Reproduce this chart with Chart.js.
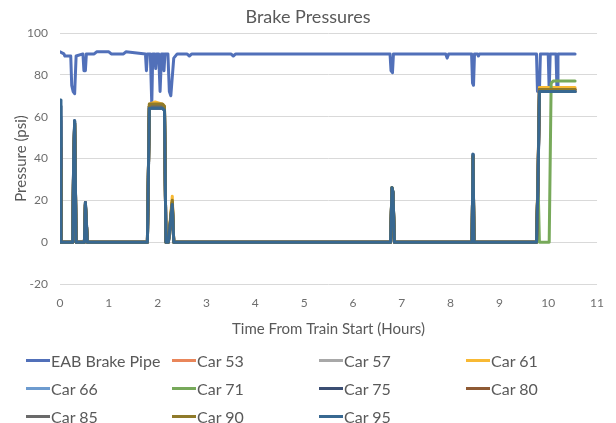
<!DOCTYPE html>
<html>
<head>
<meta charset="utf-8">
<script src="https://cdn.jsdelivr.net/npm/chart.js@4"></script>
<style>
html,body{margin:0;padding:0;background:#ffffff;}
#wrap{position:relative;width:616px;height:423px;overflow:hidden;background:#ffffff;}
#chart{position:absolute;left:0;top:0;}
#legend{position:absolute;left:0;top:0;width:616px;height:423px;pointer-events:none;font-family:Lato,"Open Sans",sans-serif;font-size:16px;color:#595959;}
.item{position:absolute;display:flex;align-items:center;height:20px;white-space:nowrap;}
.sw{width:24px;height:3px;margin-right:1px;}
</style>
</head>
<body>
<div id="wrap">
<canvas id="chart" width="616" height="423"></canvas>
<div id="legend"></div>
</div>
<script>
// ---- data ----
const seriesNames = ["EAB Brake Pipe","Car 53","Car 57","Car 61","Car 66","Car 71","Car 75","Car 80","Car 85","Car 90","Car 95"];
const seriesColors = ["#5170B9","#E9865A","#A8A8A8","#F8B934","#6D9BCF","#77A95A","#3B4E73","#8E5A34","#6A6A6A","#8F7A2A","#386891"];
const xTicks = [0,1,2,3,4,5,6,7,8,9,10,11];
const yTicks = [-20,0,20,40,60,80,100];

const pipeTimes = [0,0.08,0.10,0.22,0.24,0.27,0.30,0.33,0.47,0.49,0.52,0.54,0.70,0.75,1.00,1.05,1.30,1.35,1.75,1.77,1.79,1.85,1.88,1.90,1.94,1.96,1.98,2.02,2.05,2.08,2.11,2.13,2.15,2.21,2.24,2.27,2.33,2.40,2.60,2.65,2.70,3.50,3.55,3.60,6.76,6.78,6.81,6.83,7.90,7.93,7.96,8.43,8.45,8.47,8.49,8.55,8.57,8.59,9.76,9.78,9.82,9.84,10.00,10.02,10.04,10.16,10.18,10.20,10.55];
const pipeValues = [91,90,89,89,75,72,71,89,90,82,82,90,90,91,91,90,90,91,90,82,90,90,66,90,90,83,90,90,72,90,90,82,90,90,72,70,88,90,90,89,90,90,89,90,90,82,81,90,90,88,90,90,76,75,90,90,89,90,90,72,72,90,90,72,90,90,72,90,90];

const carTimes = [0,0.02,0.26,0.28,0.30,0.33,0.50,0.52,0.54,0.56,1.79,1.83,1.95,2.10,2.14,2.17,2.22,2.30,2.33,6.77,6.80,6.82,6.85,8.44,8.46,8.48,9.76,9.79,9.82,9.86,10.02,10.06,10.10,10.30,10.55];
const car53 = [40,0,0,38,57,0,0,18,9,0,0,65,65,65,64,0,0,20,0,0,25,23,0,0,41,0,0,30,73,73,73,73,73,73,73];
const car57 = [55,0,0,39,57,0,0,18,9,0,0,65,65,65,64,0,0,19,0,0,25,23,0,0,41,0,0,29,73,73,73,73,73,73,73];
const car61 = [30,0,0,37,56,0,0,18,9,0,0,66,67,66,65,0,0,22,0,0,26,24,0,0,41,0,0,31,74,74,74,74,74,74,74];
const car66 = [60,0,0,39,58,0,0,19,10,0,0,65,65,65,64,0,0,18,0,0,26,24,0,0,42,0,0,28,72,72,72,72,72,72,72];
const car71 = [50,0,0,38,57,0,0,18,9,0,0,65,65,65,64,0,0,19,0,0,26,24,0,0,41,0,0,30,0,0,0,76,77,77,77];
const car75 = [65,0,0,40,58,0,0,19,10,0,0,64,64,64,63,0,0,17,0,0,26,24,0,0,42,0,0,27,72,72,72,72,72,72,72];
const car80 = [45,0,0,38,57,0,0,19,9,0,0,65,65,65,64,0,0,19,0,0,25,23,0,0,41,0,0,29,73,73,73,73,73,73,73];
const car85 = [58,0,0,39,57,0,0,18,9,0,0,65,65,65,64,0,0,18,0,0,25,24,0,0,41,0,0,28,72,72,72,72,72,72,72];
const car90 = [35,0,0,38,56,0,0,18,9,0,0,66,66,66,65,0,0,20,0,0,26,23,0,0,41,0,0,30,73,73,73,73,73,73,73];
const car95 = [68,0,0,40,58,0,0,19,10,0,0,64,64,64,63,0,0,18,0,0,26,24,0,0,42,0,0,28,72,72,72,72,72,72,72];

const carSeries = [car53,car57,car61,car66,car71,car75,car80,car85,car90,car95];

// ---- build datasets ----
function pts(times, vals){ return times.map((t,i)=>({x:t,y:vals[i]})); }
const datasets = [];
datasets.push({label:seriesNames[0], data:pts(pipeTimes,pipeValues), borderColor:seriesColors[0], order:10});
carSeries.forEach((v,i)=>{
  datasets.push({label:seriesNames[i+1], data:pts(carTimes,v), borderColor:seriesColors[i+1], order:9-i});
});
datasets.forEach(d=>{ d.borderWidth=3; d.pointRadius=0; d.tension=0; d.fill=false; d.borderJoinStyle='round'; d.borderCapStyle='round'; d.backgroundColor=d.borderColor; });

const FONT = 'Lato, "Open Sans", sans-serif';
new Chart(document.getElementById('chart'), {
  type:'line',
  data:{datasets},
  options:{
    responsive:false,
    animation:false,
    events:[],
    layout:{padding:{left:0,right:0,top:0,bottom:84}},
    plugins:{
      legend:{display:false},
      tooltip:{enabled:false},
      title:{display:true,text:'Brake Pressures',color:'#595959',font:{family:FONT,size:18,weight:'normal'},padding:{top:6,bottom:5.4}}
    },
    scales:{
      x:{type:'linear',min:0,max:11,
        afterBuildTicks:s=>{s.ticks=xTicks.map(v=>({value:v}));},
        afterFit:s=>{s.height=55;},
        grid:{display:false,drawTicks:false},border:{display:false},
        ticks:{color:'#6e6e6e',font:{family:FONT,size:12},padding:12,maxRotation:0},
        title:{display:true,text:'Time From Train Start (Hours)',color:'#595959',font:{family:FONT,size:15},padding:{top:0,bottom:1}}
      },
      y:{min:-20,max:100,
        afterBuildTicks:s=>{s.ticks=yTicks.map(v=>({value:v}));},
        afterFit:s=>{s.width=60;},
        grid:{color:'#d9d9d9',lineWidth:1,drawTicks:false},border:{display:false},
        ticks:{color:'#6e6e6e',font:{family:FONT,size:12},padding:12},
        title:{display:true,text:'Pressure (psi)',color:'#595959',font:{family:FONT,size:15},padding:{top:12,bottom:0}}
      },
      yRight:{position:'right',min:-20,max:100,
        afterFit:s=>{s.width=17;},
        grid:{display:false,drawTicks:false},border:{display:false},
        ticks:{display:false}
      }
    }
  }
});

// ---- HTML legend (4 fixed columns like the reference) ----
const leg = document.getElementById('legend');
const colX = [26,172,319,466];
const rowY = [360,388,416];
seriesNames.forEach((n,i)=>{
  const el = document.createElement('div');
  el.className='item';
  el.style.left = colX[i%4]+'px';
  el.style.top = (rowY[Math.floor(i/4)]-10)+'px';
  const sw = document.createElement('span'); sw.className='sw'; sw.style.background=seriesColors[i];
  const tx = document.createElement('span'); tx.textContent=n;
  el.appendChild(sw); el.appendChild(tx); leg.appendChild(el);
});
</script>
</body>
</html>
